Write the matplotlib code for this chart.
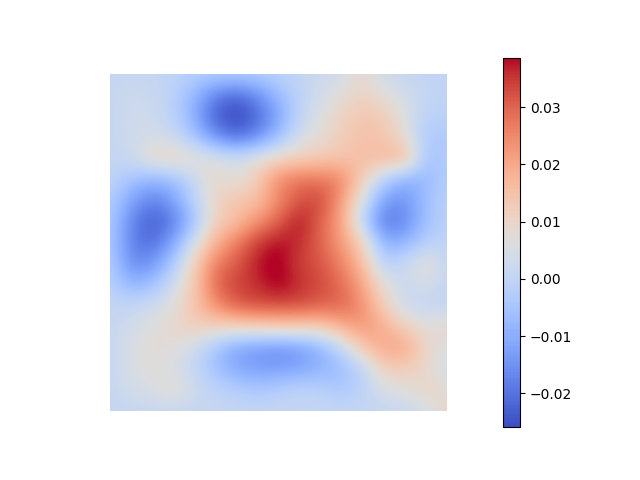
import numpy as np
import matplotlib
matplotlib.use('Agg')
import matplotlib.pyplot as plt

vmin, vmax = -0.0259, 0.0386
ticks = [-0.02, -0.01, 0.0, 0.01, 0.02, 0.03]
values = [
 [.001,.001,.001,.000,-.002,-.002,-.002,-.002,-.001,.001,.002,.004,.009,.003,.001,.000,.000],
 [.001,.003,.002,-.001,-.008,-.018,-.022,-.016,-.007,-.001,.004,.007,.011,.007,.004,.001,.000],
 [.001,.003,.003,-.001,-.010,-.023,-.027,-.022,-.012,.000,.006,.011,.014,.013,.006,-.001,-.001],
 [.001,.003,.004,.003,-.005,-.015,-.021,-.016,-.006,.004,.008,.012,.015,.014,.008,-.004,-.003],
 [.001,.002,.010,.011,.009,.006,.004,.007,.010,.012,.013,.014,.016,.017,.019,-.005,-.003],
 [.000,-.005,-.009,-.006,.001,.010,.005,.013,.025,.028,.028,.026,.012,-.002,-.010,-.008,-.002],
 [-.002,-.012,-.018,-.013,-.001,.010,.015,.015,.025,.032,.034,.022,.005,-.013,-.015,-.006,-.001],
 [-.003,-.017,-.024,-.019,-.006,.012,.015,.024,.030,.039,.030,.021,-.001,-.020,-.017,-.006,-.001],
 [-.003,-.018,-.021,-.012,.004,.018,.027,.035,.039,.036,.030,.022,.012,-.010,-.009,-.002,.000],
 [-.002,-.016,-.015,-.004,.012,.027,.031,.038,.040,.034,.032,.026,.016,-.002,.002,.009,.001],
 [-.001,-.009,-.006,.003,.013,.030,.034,.036,.040,.036,.033,.029,.021,.007,.002,.004,.001],
 [.001,.001,.003,.007,.014,.024,.031,.033,.033,.033,.031,.030,.024,.012,.002,.001,.000],
 [.001,.004,.006,.009,.012,.011,.011,.012,.013,.013,.012,.019,.023,.019,.012,.007,.010],
 [.001,.005,.008,.007,.003,-.005,-.012,-.014,-.016,-.014,-.009,.000,.014,.020,.021,.010,.005],
 [.001,.005,.007,.005,.001,-.006,-.011,-.013,-.013,-.012,-.009,-.007,-.001,.012,.012,.009,.004],
 [.001,.004,.005,.009,.003,.000,-.002,-.004,-.002,.000,-.001,-.004,-.001,.005,.006,.011,.007],
 [.001,.001,.001,.001,.001,.001,.001,.001,.001,.001,.001,.001,.001,.001,.002,.003,.011],
]

fig = plt.figure(figsize=(6.4, 4.8), dpi=100)
ax = fig.add_axes([110/640, 69/480, 337/640, 337/480])
im = ax.imshow(np.array(values), cmap='coolwarm', vmin=vmin, vmax=vmax,
               interpolation='bicubic', origin='upper',
               extent=(-0.5, 16.5, 16.5, -0.5), aspect='auto')
ax.set_xlim(0, 16)
ax.set_ylim(16, 0)
ax.axis('off')
cax = fig.add_axes([502.5/640, 53/480, 17.5/640, 369/480])
cb = fig.colorbar(im, cax=cax)
cb.set_ticks(ticks)
cb.set_ticklabels(['\u22120.02', '\u22120.01', '0.00', '0.01', '0.02', '0.03'])
fig.savefig('out.png', dpi=100)
